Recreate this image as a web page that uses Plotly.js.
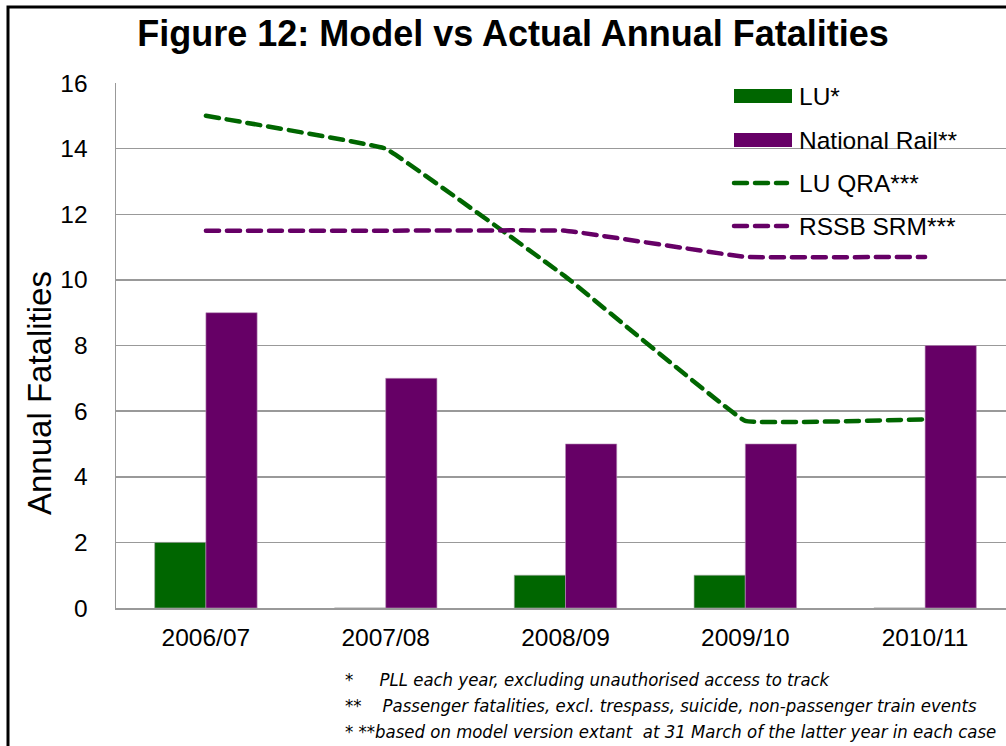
<!DOCTYPE html>
<html>
<head>
<meta charset="utf-8">
<script src="https://cdn.plot.ly/plotly-3.0.1.min.js"></script>
<style>
html,body{margin:0;padding:0;overflow:hidden;background:#fff;}
#chart{width:1030px;height:746px;}
.scatterlayer path.js-line{stroke-linecap:round;}
.layer-above path{stroke-linecap:round;}
</style>
</head>
<body>
<div id="chart"></div>
<script>
const categories = ["2006/07", "2007/08", "2008/09", "2009/10", "2010/11"];
const luActual = [2, 0, 1, 1, 0];
const nrActual = [9, 7, 5, 5, 8];
const luQRA = [15, 14, 10.1, 5.7, 5.75];
const rssbSRM = [11.5, 11.5, 11.5, 10.7, 10.7];
const yTicks = [0, 2, 4, 6, 8, 10, 12, 14, 16];
const seriesNames = ["LU*", "National Rail**", "LU QRA***", "RSSB SRM***"];
const yTitle = "Annual Fatalities";
const footnotes = [
  "*     PLL each year, excluding unauthorised access to track",
  "**    Passenger fatalities, excl. trespass, suicide, non-passenger train events",
  "* **based on model version extant  at 31 March of the latter year in each case"
];

const green = "#006600", purple = "#660066";
const colors = [green, purple, green, purple];
const W = 1030, H = 746;
const L = 116, T = 83, PW = 899, PH = 525;
const px = x => (x - L) / PW;          // page x -> paper x
const py = y => (T + PH - y) / PH;     // page y -> paper y

const dashStyle = "13px,8px";
const traces = [
  {type: "bar", name: seriesNames[0], x: categories, y: luActual, marker: {color: green, line: {color: "#a8a8a8", width: 0.6}}},
  {type: "bar", name: seriesNames[1], x: categories, y: nrActual, marker: {color: purple, line: {color: "#b890b8", width: 0.6}}},
  {type: "scatter", mode: "lines", name: seriesNames[2], x: categories, y: luQRA, line: {color: green, width: 4.5, dash: dashStyle, shape: "spline", smoothing: 0.15}},
  {type: "scatter", mode: "lines", name: seriesNames[3], x: categories, y: rssbSRM, line: {color: purple, width: 4.5, dash: dashStyle, shape: "spline", smoothing: 0.15}}
];

const footFont = {family: "Liberation Sans Narrow, DejaVu Sans Condensed, Arial, sans-serif", size: 18.4, color: "#000"};
const annotations = footnotes.map((t, i) => ({
  text: "<i>" + t + "</i>",
  xref: "paper", yref: "paper",
  x: px(343), y: py(679 + i * 26),
  xanchor: "left", yanchor: "middle", showarrow: false,
  font: footFont
}));

// y axis title (placed as in the original, below the plot centre)
annotations.push({
  text: yTitle, xref: "paper", yref: "paper", x: px(39), y: py(393),
  xanchor: "center", yanchor: "middle", textangle: -90, showarrow: false,
  font: {size: 33, color: "#000"}
});

// custom legend (matching the wide swatches of the original)
const legRows = [96, 140, 183, 226];
const shapes = [];
seriesNames.forEach((n, i) => {
  annotations.push({
    text: n, xref: "paper", yref: "paper", x: px(797), y: py(legRows[i]),
    xanchor: "left", yanchor: "middle", showarrow: false,
    font: {size: 24.5, color: "#000"}
  });
  if (i < 2) {
    shapes.push({type: "rect", xref: "paper", yref: "paper",
      x0: px(734), x1: px(792), y0: py(legRows[i] + 7), y1: py(legRows[i] - 7),
      fillcolor: colors[i], line: {width: 0}, layer: "above"});
  } else {
    shapes.push({type: "line", xref: "paper", yref: "paper",
      x0: px(734), x1: px(787), y0: py(legRows[i]), y1: py(legRows[i]),
      line: {color: colors[i], width: 4.5, dash: dashStyle}, layer: "above"});
  }
});
// outer frame
shapes.push({type: "rect", xref: "paper", yref: "paper", x0: px(8), x1: px(1100), y0: py(900), y1: py(7),
  line: {color: "#000", width: 3}, fillcolor: "rgba(0,0,0,0)", layer: "above"});

const layout = {
  width: W, height: H,
  margin: {l: L, r: W - L - PW, t: T, b: H - T - PH},
  paper_bgcolor: "#fff", plot_bgcolor: "#fff",
  font: {family: "Liberation Sans, Arial, sans-serif", color: "#000", size: 24.5},
  showlegend: false,
  title: {text: "<b>Figure 12: Model vs Actual Annual Fatalities</b>", x: 513 / W, xanchor: "center", y: 1 - 33 / H, yanchor: "middle", font: {size: 36, family: "Liberation Sans, Arial, sans-serif", color: "#000"}},
  barmode: "group", bargap: 0.43, bargroupgap: 0,
  xaxis: {type: "category", showline: true, linecolor: "#999", linewidth: 1.5, ticks: "", ticklabelstandoff: 7, tickfont: {size: 24.5}, showgrid: false, zeroline: false, fixedrange: true},
  yaxis: {range: [0, 16], tickvals: yTicks, showgrid: true, gridcolor: "#999", gridwidth: 1.5, showline: true, linecolor: "#999", linewidth: 1.5, ticks: "", ticklabelstandoff: 22, tickfont: {size: 24.5}, zeroline: false, fixedrange: true},
  annotations: annotations,
  shapes: shapes
};

Plotly.newPlot("chart", traces, layout, {displayModeBar: false, staticPlot: true});
</script>
</body>
</html>
